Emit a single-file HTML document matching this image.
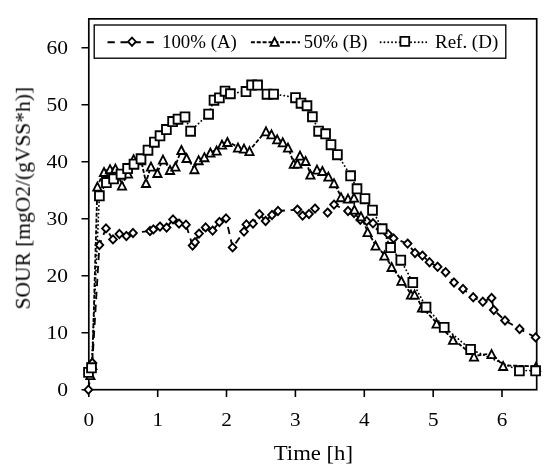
<!DOCTYPE html>
<html><head><meta charset="utf-8"><title>SOUR chart</title>
<style>
html,body{margin:0;padding:0;background:#fff;}
body{width:550px;height:472px;overflow:hidden;font-family:"Liberation Serif",serif;}
svg{display:block;}
text{font-family:"Liberation Serif",serif;fill:#000;}
.ln{fill:none;stroke:#000;stroke-width:1.85;}
.mk path{fill:#fff;stroke:#000;stroke-width:1.85;stroke-linejoin:miter;}
</style></head><body>
<svg width="550" height="472" viewBox="0 0 550 472">
<rect x="0" y="0" width="550" height="472" fill="#fff"/>
<g opacity="0.999">

<rect x="88.8" y="18.85" width="447.9" height="370.85" fill="none" stroke="#000" stroke-width="1.7"/>
<path d="M81.5 389.7H88.8M81.5 332.7H88.8M81.5 275.7H88.8M81.5 218.7H88.8M81.5 161.7H88.8M81.5 104.7H88.8M81.5 47.7H88.8M88.8 389.7V396.9M157.7 389.7V396.9M226.5 389.7V396.9M295.4 389.7V396.9M364.3 389.7V396.9M433.2 389.7V396.9M502.0 389.7V396.9" stroke="#000" stroke-width="1.6" fill="none"/>
<text x="57.2" y="395.9" font-size="19.5" textLength="10.8" lengthAdjust="spacingAndGlyphs">0</text>
<text x="46.5" y="338.9" font-size="19.5" textLength="21.5" lengthAdjust="spacingAndGlyphs">10</text>
<text x="46.5" y="281.9" font-size="19.5" textLength="21.5" lengthAdjust="spacingAndGlyphs">20</text>
<text x="46.5" y="224.9" font-size="19.5" textLength="21.5" lengthAdjust="spacingAndGlyphs">30</text>
<text x="46.5" y="167.9" font-size="19.5" textLength="21.5" lengthAdjust="spacingAndGlyphs">40</text>
<text x="46.5" y="110.9" font-size="19.5" textLength="21.5" lengthAdjust="spacingAndGlyphs">50</text>
<text x="46.5" y="53.9" font-size="19.5" textLength="21.5" lengthAdjust="spacingAndGlyphs">60</text>
<text x="83.5" y="425.6" font-size="19.5" textLength="10.6" lengthAdjust="spacingAndGlyphs">0</text>
<text x="152.4" y="425.6" font-size="19.5" textLength="10.6" lengthAdjust="spacingAndGlyphs">1</text>
<text x="221.2" y="425.6" font-size="19.5" textLength="10.6" lengthAdjust="spacingAndGlyphs">2</text>
<text x="290.1" y="425.6" font-size="19.5" textLength="10.6" lengthAdjust="spacingAndGlyphs">3</text>
<text x="359.0" y="425.6" font-size="19.5" textLength="10.6" lengthAdjust="spacingAndGlyphs">4</text>
<text x="427.9" y="425.6" font-size="19.5" textLength="10.6" lengthAdjust="spacingAndGlyphs">5</text>
<text x="496.7" y="425.6" font-size="19.5" textLength="10.6" lengthAdjust="spacingAndGlyphs">6</text>
<text x="273.8" y="459.9" font-size="21.4" textLength="79.2" lengthAdjust="spacingAndGlyphs">Time [h]</text>
<text transform="translate(29.8 309.5) rotate(-90)" x="0" y="0" font-size="21" textLength="222.6" lengthAdjust="spacingAndGlyphs">SOUR [mgO2/(gVSS*h)]</text>
<polyline class="ln" stroke-dasharray="7.3 5.7" points="88.4,389.7 92.3,363.0 99.4,245.0 106.0,228.4 113.0,239.4 119.4,234.0 126.4,236.0 133.0,233.0 150.0,231.0 153.4,229.4 160.0,226.6 166.6,227.6 173.0,219.4 179.0,223.6 186.0,224.7 192.6,245.6 195.0,242.2 199.0,233.6 205.6,227.4 212.6,230.6 219.4,222.0 226.0,218.4 232.6,247.4 244.0,231.6 246.4,224.4 253.0,223.6 259.4,214.2 265.6,221.0 272.0,215.0 278.0,211.0 297.4,209.6 302.6,215.6 309.0,214.0 315.0,208.6 327.6,212.6 334.0,204.6 348.0,211.0 354.0,213.0 360.3,219.7 366.7,221.0 373.0,223.3 380.5,229.0 388.0,234.0 393.6,238.4 407.6,243.6 415.0,253.0 422.4,255.6 429.5,262.2 437.6,266.8 445.6,272.2 454.0,282.5 463.0,289.0 473.2,297.3 482.8,301.8 491.6,298.0 493.8,310.0 505.0,320.5 519.6,329.0 535.6,337.4"/>
<g class="mk"><path d="M88.4 385.6L92.3 389.7L88.4 393.8L84.5 389.7Z"/><path d="M92.3 358.9L96.2 363.0L92.3 367.1L88.4 363.0Z"/><path d="M99.4 240.9L103.3 245.0L99.4 249.1L95.5 245.0Z"/><path d="M106.0 224.3L109.9 228.4L106.0 232.5L102.1 228.4Z"/><path d="M113.0 235.3L116.9 239.4L113.0 243.5L109.1 239.4Z"/><path d="M119.4 229.9L123.3 234.0L119.4 238.1L115.5 234.0Z"/><path d="M126.4 231.9L130.3 236.0L126.4 240.1L122.5 236.0Z"/><path d="M133.0 228.9L136.9 233.0L133.0 237.1L129.1 233.0Z"/><path d="M150.0 226.9L153.9 231.0L150.0 235.1L146.1 231.0Z"/><path d="M153.4 225.3L157.3 229.4L153.4 233.5L149.5 229.4Z"/><path d="M160.0 222.5L163.9 226.6L160.0 230.7L156.1 226.6Z"/><path d="M166.6 223.5L170.5 227.6L166.6 231.7L162.7 227.6Z"/><path d="M173.0 215.3L176.9 219.4L173.0 223.5L169.1 219.4Z"/><path d="M179.0 219.5L182.9 223.6L179.0 227.7L175.1 223.6Z"/><path d="M186.0 220.6L189.9 224.7L186.0 228.8L182.1 224.7Z"/><path d="M192.6 241.5L196.5 245.6L192.6 249.7L188.7 245.6Z"/><path d="M195.0 238.1L198.9 242.2L195.0 246.3L191.1 242.2Z"/><path d="M199.0 229.5L202.9 233.6L199.0 237.7L195.1 233.6Z"/><path d="M205.6 223.3L209.5 227.4L205.6 231.5L201.7 227.4Z"/><path d="M212.6 226.5L216.5 230.6L212.6 234.7L208.7 230.6Z"/><path d="M219.4 217.9L223.3 222.0L219.4 226.1L215.5 222.0Z"/><path d="M226.0 214.3L229.9 218.4L226.0 222.5L222.1 218.4Z"/><path d="M232.6 243.3L236.5 247.4L232.6 251.5L228.7 247.4Z"/><path d="M244.0 227.5L247.9 231.6L244.0 235.7L240.1 231.6Z"/><path d="M246.4 220.3L250.3 224.4L246.4 228.5L242.5 224.4Z"/><path d="M253.0 219.5L256.9 223.6L253.0 227.7L249.1 223.6Z"/><path d="M259.4 210.1L263.3 214.2L259.4 218.3L255.5 214.2Z"/><path d="M265.6 216.9L269.5 221.0L265.6 225.1L261.7 221.0Z"/><path d="M272.0 210.9L275.9 215.0L272.0 219.1L268.1 215.0Z"/><path d="M278.0 206.9L281.9 211.0L278.0 215.1L274.1 211.0Z"/><path d="M297.4 205.5L301.3 209.6L297.4 213.7L293.5 209.6Z"/><path d="M302.6 211.5L306.5 215.6L302.6 219.7L298.7 215.6Z"/><path d="M309.0 209.9L312.9 214.0L309.0 218.1L305.1 214.0Z"/><path d="M315.0 204.5L318.9 208.6L315.0 212.7L311.1 208.6Z"/><path d="M327.6 208.5L331.5 212.6L327.6 216.7L323.7 212.6Z"/><path d="M334.0 200.5L337.9 204.6L334.0 208.7L330.1 204.6Z"/><path d="M348.0 206.9L351.9 211.0L348.0 215.1L344.1 211.0Z"/><path d="M354.0 208.9L357.9 213.0L354.0 217.1L350.1 213.0Z"/><path d="M360.3 215.6L364.2 219.7L360.3 223.8L356.4 219.7Z"/><path d="M366.7 216.9L370.6 221.0L366.7 225.1L362.8 221.0Z"/><path d="M373.0 219.2L376.9 223.3L373.0 227.4L369.1 223.3Z"/><path d="M380.5 224.9L384.4 229.0L380.5 233.1L376.6 229.0Z"/><path d="M388.0 229.9L391.9 234.0L388.0 238.1L384.1 234.0Z"/><path d="M393.6 234.3L397.5 238.4L393.6 242.5L389.7 238.4Z"/><path d="M407.6 239.5L411.5 243.6L407.6 247.7L403.7 243.6Z"/><path d="M415.0 248.9L418.9 253.0L415.0 257.1L411.1 253.0Z"/><path d="M422.4 251.5L426.3 255.6L422.4 259.7L418.5 255.6Z"/><path d="M429.5 258.1L433.4 262.2L429.5 266.3L425.6 262.2Z"/><path d="M437.6 262.7L441.5 266.8L437.6 270.9L433.7 266.8Z"/><path d="M445.6 268.1L449.5 272.2L445.6 276.3L441.7 272.2Z"/><path d="M454.0 278.4L457.9 282.5L454.0 286.6L450.1 282.5Z"/><path d="M463.0 284.9L466.9 289.0L463.0 293.1L459.1 289.0Z"/><path d="M473.2 293.2L477.1 297.3L473.2 301.4L469.3 297.3Z"/><path d="M482.8 297.7L486.7 301.8L482.8 305.9L478.9 301.8Z"/><path d="M491.6 293.9L495.5 298.0L491.6 302.1L487.7 298.0Z"/><path d="M493.8 305.9L497.7 310.0L493.8 314.1L489.9 310.0Z"/><path d="M505.0 316.4L508.9 320.5L505.0 324.6L501.1 320.5Z"/><path d="M519.6 324.9L523.5 329.0L519.6 333.1L515.7 329.0Z"/><path d="M535.6 333.3L539.5 337.4L535.6 341.5L531.7 337.4Z"/></g>
<polyline class="ln" stroke-dasharray="4 1.85" points="90.4,374.5 92.3,364.5 97.4,186.0 104.0,171.4 110.0,168.6 115.4,168.0 122.0,185.0 128.0,173.0 133.6,158.6 141.0,159.8 146.0,182.4 151.0,166.0 157.4,172.4 163.0,159.0 170.0,169.4 175.4,166.0 181.4,149.4 186.6,157.4 194.4,168.6 198.6,159.6 204.4,156.6 210.4,152.0 216.6,150.0 222.0,144.0 227.4,141.4 238.0,147.0 244.0,148.0 249.5,150.5 266.0,130.8 271.5,133.8 277.2,138.8 282.8,141.7 288.0,147.0 293.8,163.3 297.4,163.0 300.0,155.0 305.6,160.4 310.4,174.0 317.0,169.0 322.4,170.4 328.4,176.0 334.0,182.6 341.0,196.6 348.0,198.0 354.0,197.0 354.4,209.0 361.0,215.8 367.6,231.5 375.6,245.0 384.4,255.0 391.6,266.4 401.4,280.2 411.0,294.0 414.6,294.0 422.0,307.0 436.6,323.0 453.0,339.3 474.0,356.0 491.6,353.5 503.1,365.4 536.0,366.3"/>
<g class="mk"><path d="M90.4 371.1L94.5 379.1L86.3 379.1Z"/><path d="M92.3 361.1L96.4 369.1L88.2 369.1Z"/><path d="M97.4 182.6L101.5 190.6L93.3 190.6Z"/><path d="M104.0 168.0L108.1 176.0L99.9 176.0Z"/><path d="M110.0 165.2L114.1 173.2L105.9 173.2Z"/><path d="M115.4 164.6L119.5 172.6L111.3 172.6Z"/><path d="M122.0 181.6L126.1 189.6L117.9 189.6Z"/><path d="M128.0 169.6L132.1 177.6L123.9 177.6Z"/><path d="M133.6 155.2L137.7 163.2L129.5 163.2Z"/><path d="M141.0 156.4L145.1 164.4L136.9 164.4Z"/><path d="M146.0 179.0L150.1 187.0L141.9 187.0Z"/><path d="M151.0 162.6L155.1 170.6L146.9 170.6Z"/><path d="M157.4 169.0L161.5 177.0L153.3 177.0Z"/><path d="M163.0 155.6L167.1 163.6L158.9 163.6Z"/><path d="M170.0 166.0L174.1 174.0L165.9 174.0Z"/><path d="M175.4 162.6L179.5 170.6L171.3 170.6Z"/><path d="M181.4 146.0L185.5 154.0L177.3 154.0Z"/><path d="M186.6 154.0L190.7 162.0L182.5 162.0Z"/><path d="M194.4 165.2L198.5 173.2L190.3 173.2Z"/><path d="M198.6 156.2L202.7 164.2L194.5 164.2Z"/><path d="M204.4 153.2L208.5 161.2L200.3 161.2Z"/><path d="M210.4 148.6L214.5 156.6L206.3 156.6Z"/><path d="M216.6 146.6L220.7 154.6L212.5 154.6Z"/><path d="M222.0 140.6L226.1 148.6L217.9 148.6Z"/><path d="M227.4 138.0L231.5 146.0L223.3 146.0Z"/><path d="M238.0 143.6L242.1 151.6L233.9 151.6Z"/><path d="M244.0 144.6L248.1 152.6L239.9 152.6Z"/><path d="M249.5 147.1L253.6 155.1L245.4 155.1Z"/><path d="M266.0 127.4L270.1 135.4L261.9 135.4Z"/><path d="M271.5 130.4L275.6 138.4L267.4 138.4Z"/><path d="M277.2 135.4L281.3 143.4L273.1 143.4Z"/><path d="M282.8 138.3L286.9 146.3L278.7 146.3Z"/><path d="M288.0 143.6L292.1 151.6L283.9 151.6Z"/><path d="M293.8 159.9L297.9 167.9L289.7 167.9Z"/><path d="M297.4 159.6L301.5 167.6L293.3 167.6Z"/><path d="M300.0 151.6L304.1 159.6L295.9 159.6Z"/><path d="M305.6 157.0L309.7 165.0L301.5 165.0Z"/><path d="M310.4 170.6L314.5 178.6L306.3 178.6Z"/><path d="M317.0 165.6L321.1 173.6L312.9 173.6Z"/><path d="M322.4 167.0L326.5 175.0L318.3 175.0Z"/><path d="M328.4 172.6L332.5 180.6L324.3 180.6Z"/><path d="M334.0 179.2L338.1 187.2L329.9 187.2Z"/><path d="M341.0 193.2L345.1 201.2L336.9 201.2Z"/><path d="M348.0 194.6L352.1 202.6L343.9 202.6Z"/><path d="M354.0 193.6L358.1 201.6L349.9 201.6Z"/><path d="M354.4 205.6L358.5 213.6L350.3 213.6Z"/><path d="M361.0 212.4L365.1 220.4L356.9 220.4Z"/><path d="M367.6 228.1L371.7 236.1L363.5 236.1Z"/><path d="M375.6 241.6L379.7 249.6L371.5 249.6Z"/><path d="M384.4 251.6L388.5 259.6L380.3 259.6Z"/><path d="M391.6 263.0L395.7 271.0L387.5 271.0Z"/><path d="M401.4 276.8L405.5 284.8L397.3 284.8Z"/><path d="M411.0 290.6L415.1 298.6L406.9 298.6Z"/><path d="M414.6 290.6L418.7 298.6L410.5 298.6Z"/><path d="M422.0 303.6L426.1 311.6L417.9 311.6Z"/><path d="M436.6 319.6L440.7 327.6L432.5 327.6Z"/><path d="M453.0 335.9L457.1 343.9L448.9 343.9Z"/><path d="M474.0 352.6L478.1 360.6L469.9 360.6Z"/><path d="M491.6 350.1L495.7 358.1L487.5 358.1Z"/><path d="M503.1 362.0L507.2 370.0L499.0 370.0Z"/><path d="M536.0 362.9L540.1 370.9L531.9 370.9Z"/></g>
<polyline class="ln" stroke-linecap="round" stroke-dasharray="0.1 3.7" points="88.5,372.2 91.5,367.6 99.4,195.6 106.4,182.4 113.6,178.6 121.0,174.0 127.6,168.4 134.0,164.0 141.0,158.6 148.0,150.0 154.4,142.0 160.0,135.6 166.4,129.4 172.6,121.4 178.0,119.0 185.0,116.8 190.6,131.0 208.6,114.0 214.0,100.0 219.4,97.7 225.0,91.0 230.4,93.6 246.0,91.4 251.6,84.9 257.6,84.9 267.0,94.0 273.6,94.0 295.5,97.5 301.0,103.0 307.0,105.6 312.4,116.6 318.6,131.0 325.6,133.6 331.0,144.5 337.4,154.5 350.6,175.6 357.0,188.6 365.0,198.5 372.5,210.0 382.2,228.6 390.6,247.4 400.8,260.0 412.8,282.4 426.0,307.0 444.2,327.2 470.6,349.3 519.4,370.6 535.6,370.6"/>
<g class="mk"><path d="M92.3 358.9L96.2 363.0L92.3 367.1L88.4 363.0Z"/><path d="M84.1 367.8h8.8v9.1h-8.8Z"/><path d="M87.1 363.2h8.8v9.1h-8.8Z"/><path d="M95.0 191.2h8.8v9.1h-8.8Z"/><path d="M102.0 178.0h8.8v9.1h-8.8Z"/><path d="M109.2 174.2h8.8v9.1h-8.8Z"/><path d="M116.6 169.6h8.8v9.1h-8.8Z"/><path d="M123.2 164.0h8.8v9.1h-8.8Z"/><path d="M129.6 159.6h8.8v9.1h-8.8Z"/><path d="M136.6 154.2h8.8v9.1h-8.8Z"/><path d="M143.6 145.6h8.8v9.1h-8.8Z"/><path d="M150.0 137.6h8.8v9.1h-8.8Z"/><path d="M155.6 131.2h8.8v9.1h-8.8Z"/><path d="M162.0 125.0h8.8v9.1h-8.8Z"/><path d="M168.2 117.0h8.8v9.1h-8.8Z"/><path d="M173.6 114.6h8.8v9.1h-8.8Z"/><path d="M180.6 112.4h8.8v9.1h-8.8Z"/><path d="M186.2 126.6h8.8v9.1h-8.8Z"/><path d="M204.2 109.6h8.8v9.1h-8.8Z"/><path d="M209.6 95.6h8.8v9.1h-8.8Z"/><path d="M215.0 93.3h8.8v9.1h-8.8Z"/><path d="M220.6 86.6h8.8v9.1h-8.8Z"/><path d="M226.0 89.2h8.8v9.1h-8.8Z"/><path d="M241.6 87.0h8.8v9.1h-8.8Z"/><path d="M247.2 80.5h8.8v9.1h-8.8Z"/><path d="M253.2 80.5h8.8v9.1h-8.8Z"/><path d="M262.6 89.6h8.8v9.1h-8.8Z"/><path d="M269.2 89.6h8.8v9.1h-8.8Z"/><path d="M291.1 93.1h8.8v9.1h-8.8Z"/><path d="M296.6 98.6h8.8v9.1h-8.8Z"/><path d="M302.6 101.2h8.8v9.1h-8.8Z"/><path d="M308.0 112.2h8.8v9.1h-8.8Z"/><path d="M314.2 126.6h8.8v9.1h-8.8Z"/><path d="M321.2 129.2h8.8v9.1h-8.8Z"/><path d="M326.6 140.1h8.8v9.1h-8.8Z"/><path d="M333.0 150.1h8.8v9.1h-8.8Z"/><path d="M346.2 171.2h8.8v9.1h-8.8Z"/><path d="M352.6 184.2h8.8v9.1h-8.8Z"/><path d="M360.6 194.1h8.8v9.1h-8.8Z"/><path d="M368.1 205.6h8.8v9.1h-8.8Z"/><path d="M377.8 224.2h8.8v9.1h-8.8Z"/><path d="M386.2 243.0h8.8v9.1h-8.8Z"/><path d="M396.4 255.6h8.8v9.1h-8.8Z"/><path d="M408.4 278.0h8.8v9.1h-8.8Z"/><path d="M421.6 302.6h8.8v9.1h-8.8Z"/><path d="M439.8 322.8h8.8v9.1h-8.8Z"/><path d="M466.2 344.9h8.8v9.1h-8.8Z"/><path d="M515.0 366.2h8.8v9.1h-8.8Z"/><path d="M531.2 366.2h8.8v9.1h-8.8Z"/></g>
<rect x="94.2" y="25.0" width="411.6" height="33.2" fill="#fff" stroke="#000" stroke-width="1.35"/>
<path class="ln" stroke-dasharray="7.3 5.7" d="M107.5 42.2H157"/>
<g class="mk"><path d="M132.0 37.6L135.9 41.7L132.0 45.8L128.1 41.7Z"/></g>
<text opacity="0.999" x="162.0" y="47.8" font-size="19.5" textLength="74.8" lengthAdjust="spacingAndGlyphs">100% (A)</text>
<path class="ln" stroke-dasharray="4 1.85" d="M250.9 42.2H300"/>
<g class="mk"><path d="M274.6 37.8L278.7 45.8L270.5 45.8Z"/></g>
<text opacity="0.999" x="303.8" y="47.8" font-size="19.5" textLength="63.8" lengthAdjust="spacingAndGlyphs">50% (B)</text>
<path class="ln" stroke-linecap="round" stroke-dasharray="0.1 3.7" d="M380.6 42.2H429.8"/>
<g class="mk"><path d="M400.4 36.8h8.8v9.1h-8.8Z"/></g>
<text opacity="0.999" x="435.0" y="47.8" font-size="19.5" textLength="63.2" lengthAdjust="spacingAndGlyphs">Ref. (D)</text>
</g></svg></body></html>
